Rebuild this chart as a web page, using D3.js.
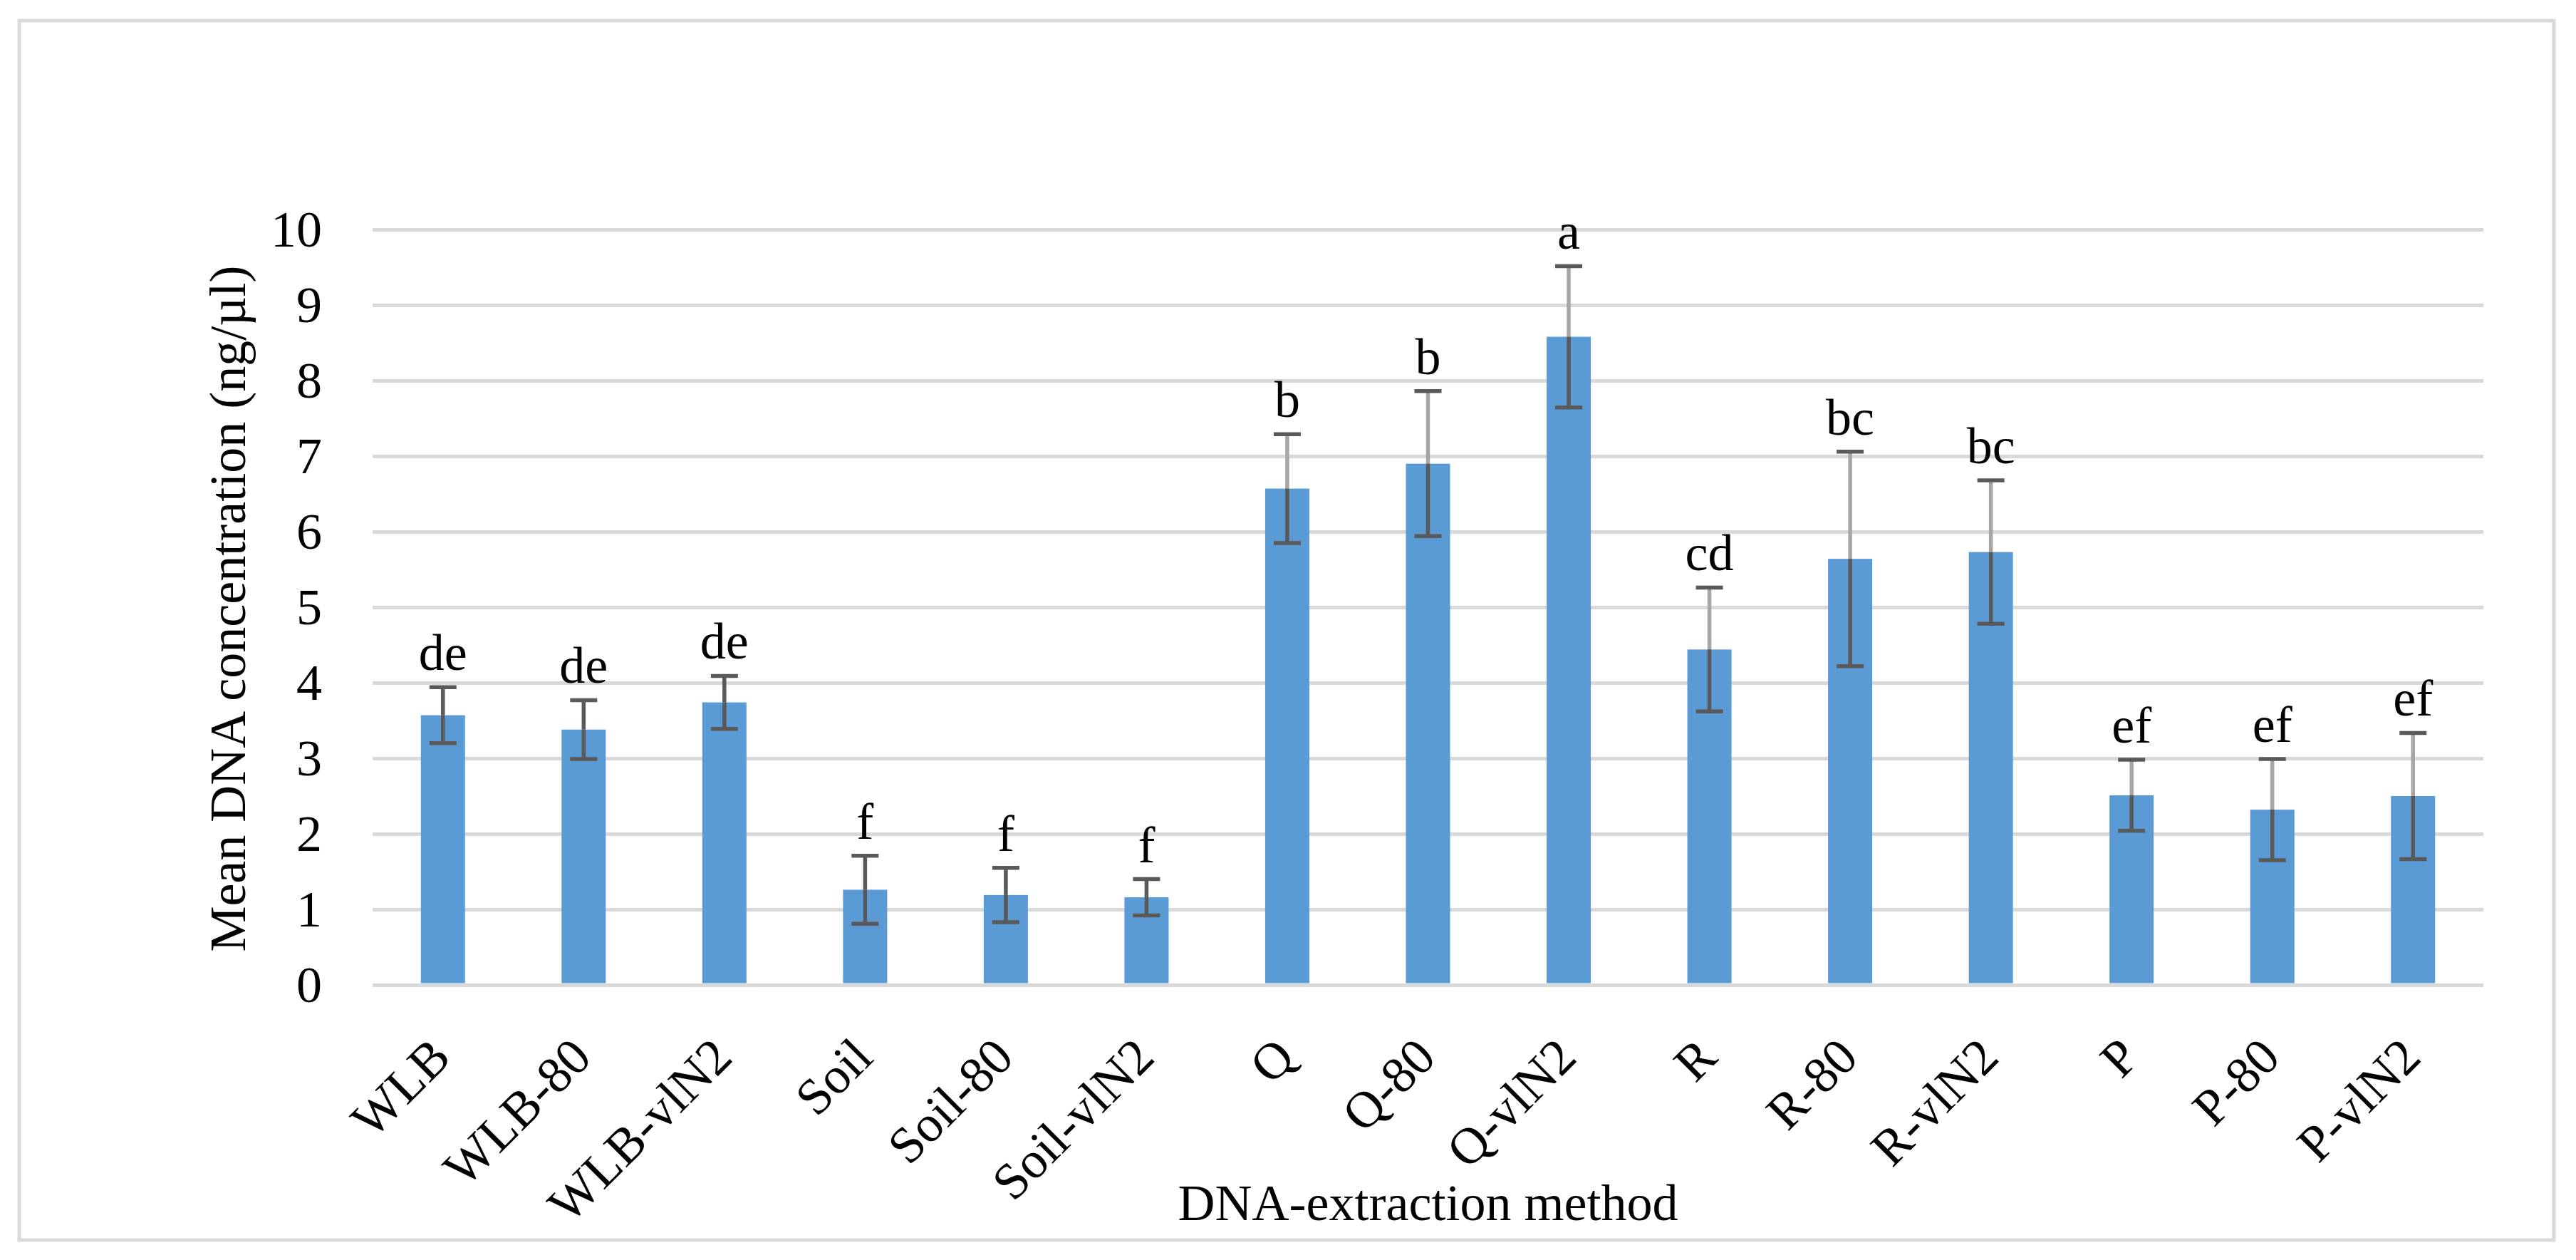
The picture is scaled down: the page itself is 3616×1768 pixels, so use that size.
<!DOCTYPE html>
<html>
<head>
<meta charset="utf-8">
<script src="https://cdnjs.cloudflare.com/ajax/libs/d3/7.8.5/d3.min.js"></script>
<style>
  html, body { margin: 0; padding: 0; background: #fff; }
  svg text { font-family: "Liberation Serif", "Times New Roman", serif; fill: #000; }
</style>
</head>
<body>
<svg id="chart"></svg>
<script>
// data
const categories = ["WLB", "WLB-80", "WLB-vlN2", "Soil", "Soil-80", "Soil-vlN2",
  "Q", "Q-80", "Q-vlN2", "R", "R-80", "R-vlN2", "P", "P-80", "P-vlN2"];
const means = [3.57, 3.38, 3.74, 1.26, 1.19, 1.16, 6.57, 6.90, 8.58, 4.44, 5.64, 5.73, 2.51, 2.32, 2.50];
const errors = [0.37, 0.39, 0.35, 0.45, 0.36, 0.24, 0.72, 0.96, 0.935, 0.82, 1.42, 0.95, 0.47, 0.67, 0.835];
const letters = ["de", "de", "de", "f", "f", "f", "b", "b", "a", "cd", "bc", "bc", "ef", "ef", "ef"];
const yTicks = [0, 1, 2, 3, 4, 5, 6, 7, 8, 9, 10];

// groups whose upper whisker is drawn in light grey
const lightPlus = new Set(["Q", "Q-80", "Q-vlN2", "R", "R-80", "R-vlN2", "P", "P-80", "P-vlN2"]);

const W = 3616, H = 1768;
const plot = { left: 523, right: 3486, top: 322, bottom: 1382 };
const fontSize = 72;

const svg = d3.select("#chart").attr("width", W).attr("height", H);

// outer frame
svg.append("rect")
  .attr("x", 27).attr("y", 29)
  .attr("width", 3558).attr("height", 1711)
  .attr("fill", "none")
  .attr("stroke", "#d9d9d9")
  .attr("stroke-width", 5);

const x = d3.scaleBand()
  .domain(categories)
  .range([plot.left, plot.right])
  .paddingInner(0.686)
  .paddingOuter(0.343);

const y = d3.scaleLinear()
  .domain([0, 10])
  .range([plot.bottom, plot.top]);

// gridlines + y labels
const yAxis = svg.append("g")
  .attr("transform", `translate(${plot.left},0)`)
  .call(d3.axisLeft(y).tickValues(yTicks).tickSize(-(plot.right - plot.left)).tickPadding(71));
yAxis.select(".domain").remove();
yAxis.selectAll(".tick line").attr("stroke", "#d9d9d9").attr("stroke-width", 5);
yAxis.selectAll(".tick text").style("font-size", fontSize + "px").attr("dy", "0.33em");

// bars
svg.append("g")
  .selectAll("rect")
  .data(categories)
  .join("rect")
  .attr("x", d => x(d))
  .attr("y", (d, i) => y(means[i]))
  .attr("width", x.bandwidth())
  .attr("height", (d, i) => y(0) - y(means[i]) - 2.5)
  .attr("fill", "#5b9bd5");

// error bars
const cx = d => x(d) + x.bandwidth() / 2;
const capW = 38;
const err = svg.append("g").selectAll("g").data(categories).join("g");

err.append("line")
  .attr("x1", cx).attr("x2", cx)
  .attr("y1", (d, i) => y(means[i]))
  .attr("y2", (d, i) => y(means[i] + errors[i]))
  .attr("stroke", d => lightPlus.has(d) ? "#a6a6a6" : "#595959")
  .attr("stroke-width", 5.5);

err.append("line")
  .attr("x1", cx).attr("x2", cx)
  .attr("y1", (d, i) => y(means[i]))
  .attr("y2", (d, i) => y(means[i] - errors[i]))
  .attr("stroke", "#595959")
  .attr("stroke-width", 5.5);

["+", "-"].forEach(sign => {
  err.append("line")
    .attr("x1", d => cx(d) - capW / 2)
    .attr("x2", d => cx(d) + capW / 2)
    .attr("y1", (d, i) => y(sign === "+" ? means[i] + errors[i] : means[i] - errors[i]))
    .attr("y2", (d, i) => y(sign === "+" ? means[i] + errors[i] : means[i] - errors[i]))
    .attr("stroke", "#595959")
    .attr("stroke-width", 5.5);
});

// significance letters
svg.append("g")
  .selectAll("text")
  .data(categories)
  .join("text")
  .attr("x", cx)
  .attr("y", (d, i) => y(means[i] + errors[i]) - 24)
  .attr("text-anchor", "middle")
  .style("font-size", fontSize + "px")
  .text((d, i) => letters[i]);

// category axis
const xAxis = svg.append("g")
  .attr("transform", `translate(0,${plot.bottom})`)
  .call(d3.axisBottom(x).tickSize(0));
xAxis.select(".domain").remove();
xAxis.selectAll(".tick text")
  .attr("x", 0).attr("y", 0).attr("dy", 0)
  .attr("transform", "translate(14,105) rotate(-45)")
  .attr("text-anchor", "end")
  .style("font-size", fontSize + "px");

// axis titles
svg.append("text")
  .attr("x", (plot.left + plot.right) / 2)
  .attr("y", 1712)
  .attr("text-anchor", "middle")
  .style("font-size", fontSize + "px")
  .text("DNA-extraction method");

svg.append("text")
  .attr("transform", "translate(344,854) rotate(-90)")
  .attr("text-anchor", "middle")
  .style("font-size", fontSize + "px")
  .text("Mean DNA concentration (ng/µl)");
</script>
</body>
</html>
